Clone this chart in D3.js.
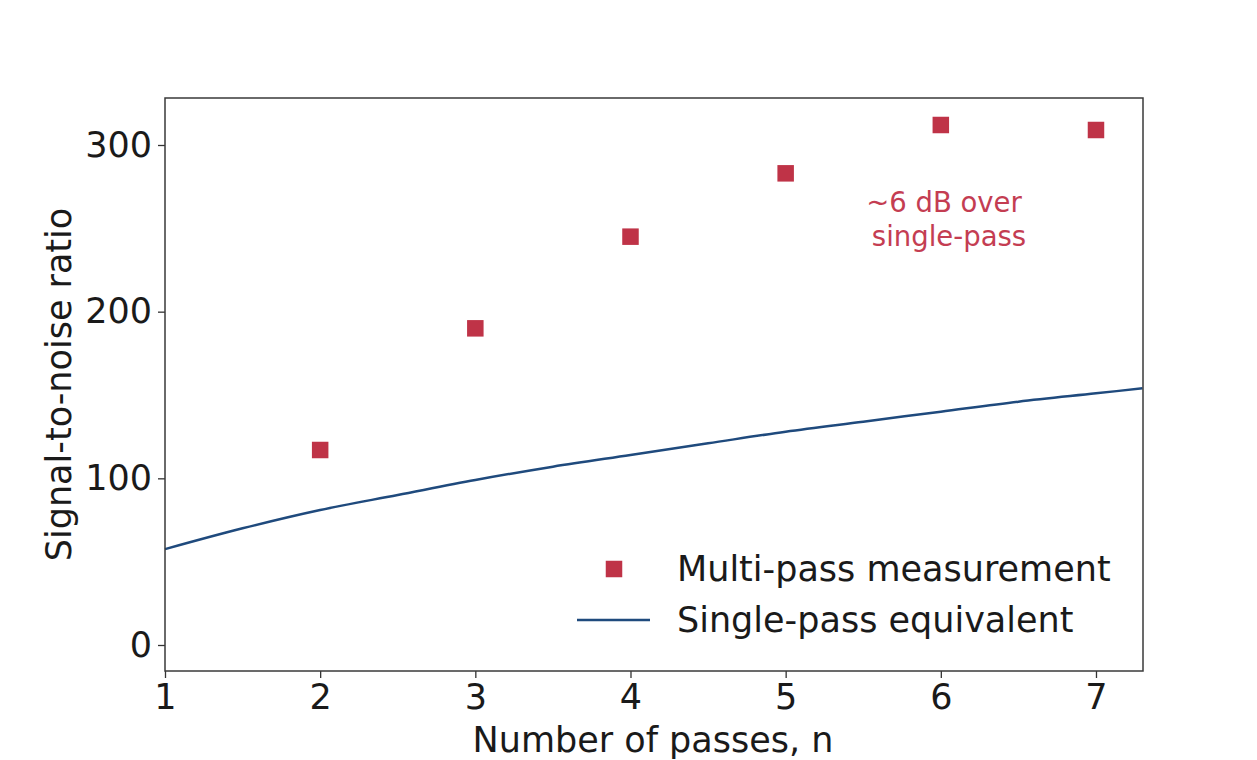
<!DOCTYPE html>
<html>
<head>
<meta charset="utf-8">
<script src="https://cdn.jsdelivr.net/npm/d3@7"></script>
<style>
  html, body { margin: 0; padding: 0; background: #fff; }
  svg { display: block; }
  text { font-family: "DejaVu Sans", sans-serif; fill: #1a1a1a; }
</style>
</head>
<body>
<svg id="chart" width="1257" height="760"></svg>
<script>
// Multi-pass measurements (n, SNR)
const passes = [2, 3, 4, 5, 6, 7];
const multiPassSNR = [117, 190, 245, 283, 312, 309];

// Single-pass equivalent curve
const curveN = [1, 1.5, 2, 2.5, 3, 3.5, 4, 4.5, 5, 5.5, 6, 6.5, 7, 7.3];
const curveSNR = [57.5, 70, 81, 90, 99, 107, 114, 121, 128, 134, 140, 146, 151, 154];

const xTicks = [1, 2, 3, 4, 5, 6, 7];
const yTicks = [0, 100, 200, 300];

const xLabel = "Number of passes, n";
const yLabel = "Signal-to-noise ratio";
const legendLabels = ["Multi-pass measurement", "Single-pass equivalent"];
const noteLines = ["~6 dB over", "single-pass"];

const RED = "#bf3347";
const NOTE_RED = "#c43d52";
const BLUE = "#1f4a7d";

const svg = d3.select("#chart");
const L = 165, R = 1143, T = 98, B = 671;

const x = d3.scaleLinear().domain([1, 7.303]).range([L, R]);
const y = d3.scaleLinear().domain([-15.6, 328.2]).range([B, T]);

// Axes
const xAxis = d3.axisBottom(x).tickValues(xTicks).tickFormat(d3.format("d")).tickSize(7).tickPadding(6);
const yAxis = d3.axisLeft(y).tickValues(yTicks).tickFormat(d3.format("d")).tickSize(7).tickPadding(6);

const gx = svg.append("g").attr("transform", `translate(0,${B})`).call(xAxis);
const gy = svg.append("g").attr("transform", `translate(${L},0)`).call(yAxis);
[gx, gy].forEach(g => {
  g.select(".domain").remove();
  g.selectAll(".tick line").attr("stroke", "#333").attr("stroke-width", 1.3);
  g.selectAll(".tick text").attr("font-size", 35).attr("fill", "#1a1a1a")
    .style("font-family", '"DejaVu Sans", sans-serif');
});

// Curve
const line = d3.line().x(d => x(d[0])).y(d => y(d[1])).curve(d3.curveMonotoneX);
svg.append("path")
  .datum(curveN.map((n, i) => [n, curveSNR[i]]))
  .attr("d", line)
  .attr("fill", "none")
  .attr("stroke", BLUE)
  .attr("stroke-width", 2.5);

// Markers
const ms = 16.5;
svg.append("g").selectAll("rect")
  .data(passes.map((n, i) => [n, multiPassSNR[i]]))
  .join("rect")
  .attr("x", d => x(d[0]) - ms / 2)
  .attr("y", d => y(d[1]) - ms / 2)
  .attr("width", ms).attr("height", ms)
  .attr("fill", RED);

// Frame
svg.append("rect")
  .attr("x", L).attr("y", T).attr("width", R - L).attr("height", B - T)
  .attr("fill", "none").attr("stroke", "#3a3a3a").attr("stroke-width", 1.5);

// Axis labels
svg.append("text")
  .attr("x", (L + R) / 2 - 1).attr("y", 752)
  .attr("text-anchor", "middle").attr("font-size", 35)
  .text(xLabel);
svg.append("text")
  .attr("transform", `translate(71,${(T + B) / 2}) rotate(-90)`)
  .attr("text-anchor", "middle").attr("font-size", 35)
  .text(yLabel);

// Annotation
svg.append("g").selectAll("text")
  .data(noteLines)
  .join("text")
  .attr("x", (d, i) => i === 0 ? 944 : 949)
  .attr("y", (d, i) => 212 + i * 34)
  .attr("text-anchor", "middle")
  .attr("font-size", 27.5)
  .style("fill", NOTE_RED)
  .text(d => d);

// Legend
svg.append("rect")
  .attr("x", 614 - ms / 2).attr("y", 569 - ms / 2)
  .attr("width", ms).attr("height", ms).attr("fill", RED);
svg.append("line")
  .attr("x1", 577).attr("x2", 650).attr("y1", 620).attr("y2", 620)
  .attr("stroke", BLUE).attr("stroke-width", 2.5);
svg.append("g").selectAll("text")
  .data(legendLabels)
  .join("text")
  .attr("x", 677)
  .attr("y", (d, i) => 581 + i * 51)
  .attr("font-size", 35)
  .text(d => d);
</script>
</body>
</html>
